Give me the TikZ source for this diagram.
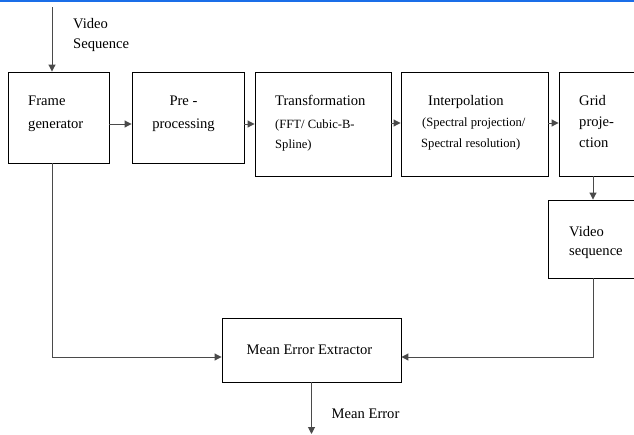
\documentclass[tikz,border=0pt]{standalone}
\usepackage{fontspec}
\setmainfont{Liberation Serif}
\newfontfamily\tms{Liberation Serif}
\usetikzlibrary{arrows.meta}
\definecolor{topblue}{HTML}{1A6EE8}
\definecolor{linegray}{HTML}{4A4A4A}
\tikzset{
  blk/.style={draw=black, line width=0.9pt, fill=white, inner sep=0pt},
  conn/.style={draw=linegray, line width=1pt, -{Triangle[length=7pt,width=7pt]}},
  txt/.style={inner sep=0pt, anchor=base west, font=\tms\fontsize{14.6}{16}\selectfont},
  txtc/.style={inner sep=0pt, anchor=base, font=\tms\fontsize{14.6}{16}\selectfont},
  smalltxt/.style={inner sep=0pt, anchor=base west, font=\tms\fontsize{12.6}{14}\selectfont},
}
\begin{document}
\begin{tikzpicture}[x=1pt,y=-1pt]
\useasboundingbox (0,0) rectangle (634,434);
\clip (0,0) rectangle (634,434);
\fill[white] (0,0) rectangle (634,434);
\fill[topblue] (0,0) rectangle (634,1.6);

% boxes
\node[blk, minimum width=101pt, minimum height=91pt] (fg) at (58.5,117.5) {};
\node[blk, minimum width=112pt, minimum height=91pt] (pre) at (188,117.5) {};
\node[blk, minimum width=136pt, minimum height=104pt] (tr) at (323,124) {};
\node[blk, minimum width=147pt, minimum height=104pt] (ip) at (474.5,124) {};
\node[blk, minimum width=100pt, minimum height=104pt] (gp) at (609,124) {};
\node[blk, minimum width=100pt, minimum height=78pt] (vs) at (598,239) {};
\node[blk, minimum width=179pt, minimum height=64pt] (me) at (311.5,350) {};

% texts
\node[txt] (t1) at (73,28) {Video};
\node[txt] (t2) at (73,48) {Sequence};
\node[txt] (fg1) at (28,105) {Frame};
\node[txt] (fg2) at (28,128) {generator};
\node[txtc] (pr1) at (183.5,105) {Pre -};
\node[txtc] (pr2) at (183.5,128) {processing};
\node[txt] (tr1) at (275,105) {Transformation};
\node[smalltxt] (tr2) at (275,128) {(FFT/ Cubic-B-};
\node[smalltxt] (tr3) at (275,148) {Spline)};
\node[txt] (ip1) at (428,105) {Interpolation};
\node[smalltxt] (ip2) at (422,126) {(Spectral projection/};
\node[smalltxt] (ip3) at (421,147) {Spectral resolution)};
\node[txt] (gp1) at (579,105) {Grid};
\node[txt] (gp2) at (579,126) {proje-};
\node[txt] (gp3) at (579,147) {ction};
\node[txt] (vs1) at (569,236) {Video};
\node[txt] (vs2) at (569,255) {sequence};
\node[txtc] (me1) at (309.5,354) {Mean Error Extractor};
\node[txt] (me2) at (331.5,418) {Mean Error};

% connectors
\coordinate (in) at (52,7);
\coordinate (out) at (311.5,434);
\draw[conn] (in) -- (fg.north -| in);
\draw[conn] (fg.east |- 0,124) -- (pre.west |- 0,124);
\draw[conn] (pre.east |- 0,124) -- (tr.west |- 0,124);
\draw[conn] (tr.east |- 0,123) -- (ip.west |- 0,123);
\draw[conn] (ip.east |- 0,123) -- (gp.west |- 0,123);
\draw[conn] (gp.south -| 593,0) -- (vs.north -| 593,0);
\draw[conn] (fg.south -| in) |- (me.west |- 0,357);
\draw[conn] (vs.south -| 593,0) |- (me.east |- 0,357);
\draw[conn] (me.south) -- (out);
\end{tikzpicture}
\end{document}
